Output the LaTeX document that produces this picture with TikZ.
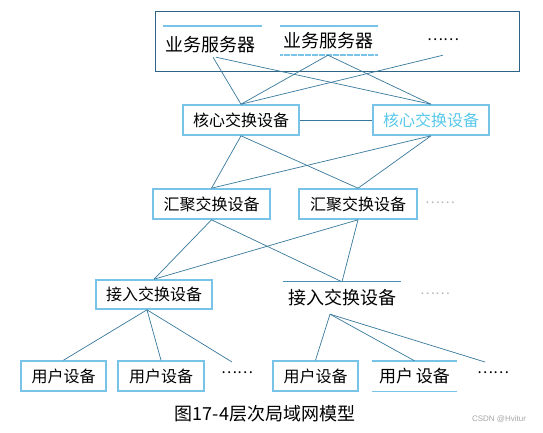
\documentclass[tikz,border=0pt]{standalone}
\usepackage{fontspec}
\newfontfamily\cjk{Noto Sans CJK SC}
\newfontfamily\wmfont{Liberation Sans}
\definecolor{boxblue}{RGB}{120,195,232}
\definecolor{linkc}{RGB}{55,120,155}
\definecolor{cyantext}{RGB}{90,200,235}
\definecolor{framec}{RGB}{45,100,135}
\begin{document}
\begin{tikzpicture}[x=1pt,y=-1pt,
  devbox/.style={draw=boxblue,line width=1.6pt,fill=white,inner sep=0pt,minimum height=30pt,font=\cjk\fontsize{16}{16}\selectfont},
  plaintxt/.style={inner sep=0pt,font=\cjk\fontsize{18}{18}\selectfont},
  dotstxt/.style={inner sep=0pt,font=\cjk\fontsize{15}{15}\selectfont},
  faintdots/.style={inner sep=0pt,text=gray!55,font=\cjk\fontsize{14}{14}\selectfont},
  link/.style={draw=linkc,line width=0.7pt},
  accent/.style={draw=boxblue,line width=1.2pt}
]
\useasboundingbox (0,0) rectangle (543,432);
% server frame
\node[draw=framec,line width=0.8pt,minimum width=364pt,minimum height=60pt,inner sep=0pt] (frame) at (337,41) {};
\node[plaintxt,minimum height=25pt] (s1) at (210,44.5) {业务服务器};
\node[plaintxt,minimum height=28pt] (s2) at (328,41) {业务服务器};
\node[dotstxt,minimum height=30pt] (sd) at (443,40) {……};
\draw[accent] (163,26) -- (262,26);
\draw[accent] (280,26) -- (378,26);
\draw[accent,dashed,dash pattern=on 3pt off 0.5pt] (280,55) -- (378,55);
% core
\node[devbox,minimum width=116pt] (c1) at (241,120) {核心交换设备};
\node[devbox,minimum width=116pt,text=cyantext] (c2) at (431,120) {核心交换设备};
% aggregation
\node[devbox,minimum width=117pt] (g1) at (211.5,204) {汇聚交换设备};
\node[devbox,minimum width=118pt] (g2) at (358,204) {汇聚交换设备};
\node[faintdots] (gd) at (440,203) {……};
% access
\node[devbox,minimum width=116pt,minimum height=29pt] (a1) at (154,294.5) {接入交换设备};
\node[inner sep=0pt,minimum width=118pt,minimum height=32pt,font=\cjk\fontsize{18}{18}\selectfont] (a2) at (342,298) {接入交换设备};
\node[faintdots] (ad) at (435,294) {……};
% users
\node[devbox,minimum width=85pt] (u1) at (63.5,376) {用户设备};
\node[devbox,minimum width=86pt] (u2) at (161,376) {用户设备};
\node[dotstxt] (ud1) at (237,373) {……};
\node[devbox,minimum width=85pt] (u3) at (315.5,376) {用户设备};
\node[inner sep=0pt,minimum width=85pt,minimum height=30pt,font=\cjk\fontsize{17}{17}\selectfont] (u4) at (414.5,376) {用户\,设备};
\draw[accent,line width=1.4pt] (u4.north west) -- (u4.north east);
\draw[accent,line width=1.4pt] (u4.south west) -- (u4.south east);
\node[dotstxt] (ud2) at (493,373) {……};
\coordinate (ud1t) at (232,362);
\coordinate (ud2t) at (485,362);
% caption and watermark
\node[plaintxt] (cap) at (265,414) {图17-4层次局域网模型};
\node[inner sep=0pt,text=gray!70,font=\wmfont\fontsize{8}{8}\selectfont] (wm) at (499,419) {CSDN @Hvitur};
% links
\draw[link] ([xshift=3pt]s1.south) -- (c1.north);
\draw[link] ([xshift=6pt]s1.south) -- (c2.north);
\draw[link] (s2.south) -- (c1.north);
\draw[link] (s2.south) -- (c2.north);
\draw[link] (sd.south) -- (c1.north);
\draw[link] (c1.east) -- (c2.west);
\draw[link] (c1.south) -- (g1.north);
\draw[link] (c1.south) -- (g2.north);
\draw[link] (c2.south) -- (g1.north);
\draw[link] (c2.south) -- (g2.north);
\draw[link] (g1.south) -- (a1.north);
\draw[link] (g1.south) -- (a2.north);
\draw[link] (g2.south) -- (a1.north);
\draw[link] (g2.south) -- (a2.north);
\draw[link] ([xshift=-7pt]a1.south) -- (u1.north);
\draw[link] ([xshift=-7pt]a1.south) -- (u2.north);
\draw[link] ([xshift=-7pt]a1.south) -- (ud1t);
\draw[link] ([xshift=-12pt]a2.south) -- (u3.north);
\draw[link] ([xshift=-12pt]a2.south) -- (u4.north);
\draw[link] ([xshift=-12pt]a2.south) -- (ud2t);
\draw[draw=linkc!70!boxblue,line width=1.2pt] (a2.north west) -- (a2.north east);
\end{tikzpicture}
\end{document}
